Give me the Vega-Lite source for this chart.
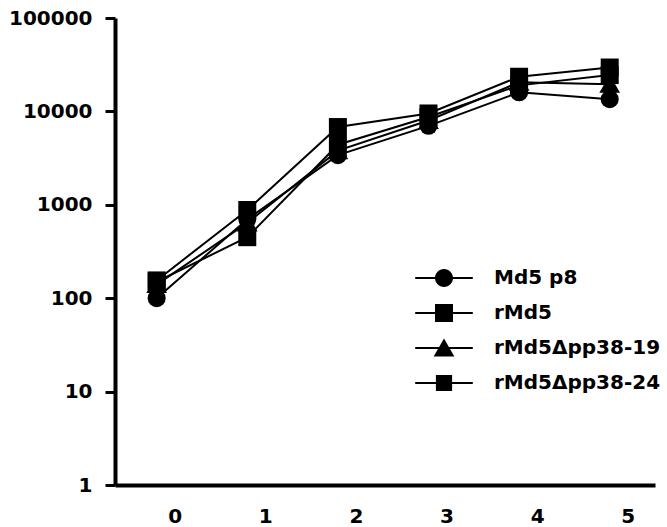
{
  "$schema": "https://vega.github.io/schema/vega-lite/v6.json",
  "autosize": {"type": "none"},
  "width": 540,
  "height": 467,
  "padding": {"left": 115, "top": 18, "right": 12, "bottom": 42},
  "background": "white",
  "config": {"view": {"stroke": null}},
  "data": {
    "values": [
      {"series": "Md5 p8", "day": 0, "value": 100},
      {"series": "Md5 p8", "day": 1, "value": 700},
      {"series": "Md5 p8", "day": 2, "value": 3400},
      {"series": "Md5 p8", "day": 3, "value": 7000},
      {"series": "Md5 p8", "day": 4, "value": 16000},
      {"series": "Md5 p8", "day": 5, "value": 13500},
      {"series": "rMd5", "day": 0, "value": 155},
      {"series": "rMd5", "day": 1, "value": 880},
      {"series": "rMd5", "day": 2, "value": 6800},
      {"series": "rMd5", "day": 3, "value": 9500},
      {"series": "rMd5", "day": 4, "value": 23500},
      {"series": "rMd5", "day": 5, "value": 29500},
      {"series": "rMd5Δpp38-19", "day": 0, "value": 140},
      {"series": "rMd5Δpp38-19", "day": 1, "value": 640},
      {"series": "rMd5Δpp38-19", "day": 2, "value": 3800},
      {"series": "rMd5Δpp38-19", "day": 3, "value": 8000},
      {"series": "rMd5Δpp38-19", "day": 4, "value": 20500},
      {"series": "rMd5Δpp38-19", "day": 5, "value": 19500},
      {"series": "rMd5Δpp38-24", "day": 0, "value": 150},
      {"series": "rMd5Δpp38-24", "day": 1, "value": 450},
      {"series": "rMd5Δpp38-24", "day": 2, "value": 4400},
      {"series": "rMd5Δpp38-24", "day": 3, "value": 8700},
      {"series": "rMd5Δpp38-24", "day": 4, "value": 19000},
      {"series": "rMd5Δpp38-24", "day": 5, "value": 24500}
    ]
  },
  "encoding": {
    "x": {
      "field": "day", "type": "quantitative",
      "scale": {"domain": [-0.46, 5.5], "nice": false, "zero": false},
      "axis": {
        "title": null, "values": [0, 1, 2, 3, 4, 5], "format": "d",
        "grid": false, "ticks": false, "tickSize": 0,
        "domainColor": "black", "domainWidth": 4,
        "labelFont": "DejaVu Sans", "labelFontWeight": "bold", "labelFontSize": 20,
        "labelColor": "black", "labelPadding": 21, "labelOffset": 18, "labelBaseline": "top"
      }
    },
    "y": {
      "field": "value", "type": "quantitative",
      "scale": {"type": "log", "domain": [1, 100000], "nice": false},
      "axis": {
        "title": null, "values": [1, 10, 100, 1000, 10000, 100000], "format": "d",
        "grid": false, "tickSize": 10, "tickWidth": 3, "tickColor": "black",
        "domainColor": "black", "domainWidth": 4,
        "labelFont": "DejaVu Sans", "labelFontWeight": "bold", "labelFontSize": 20,
        "labelColor": "black", "labelPadding": 13
      }
    }
  },
  "layer": [
    {
      "mark": {"type": "line", "color": "black", "strokeWidth": 2},
      "encoding": {"detail": {"field": "series"}}
    },
    {
      "mark": {"type": "point", "filled": true, "color": "black", "opacity": 1, "size": 324},
      "encoding": {
        "shape": {
          "field": "series", "type": "nominal",
          "scale": {
            "domain": ["Md5 p8", "rMd5", "rMd5Δpp38-19", "rMd5Δpp38-24"],
            "range": ["circle", "square", "M0,-1.05L1.15,0.95L-1.15,0.95Z", "square"]
          },
          "legend": null
        }
      }
    },
    {
      "transform": [{"filter": "false"}],
      "mark": {"type": "point", "filled": true, "color": "black", "opacity": 1, "size": 324},
      "encoding": {
        "shape": {
          "field": "series", "type": "nominal",
          "scale": {
            "domain": ["Md5 p8", "rMd5", "rMd5Δpp38-19", "rMd5Δpp38-24"],
            "range": [
              "M-3.2,-0.11H-0.5V0.11H-3.2Z M0.5,-0.11H3.2V0.11H0.5Z M0,-1A1,1,0,1,1,0,1A1,1,0,1,1,0,-1Z",
              "M-3.2,-0.11H-0.5V0.11H-3.2Z M0.5,-0.11H3.2V0.11H0.5Z M-1,-1H1V1H-1Z",
              "M-3.2,-0.11H-0.5V0.11H-3.2Z M0.5,-0.11H3.2V0.11H0.5Z M0,-1.05L1.15,0.95L-1.15,0.95Z",
              "M-3.2,-0.11H-0.5V0.11H-3.2Z M0.5,-0.11H3.2V0.11H0.5Z M-0.9,-0.9H0.9V0.9H-0.9Z"
            ]
          },
          "legend": {
            "orient": "none", "legendX": 319, "legendY": 250, "title": null,
            "padding": 0, "labelFont": "DejaVu Sans", "labelFontWeight": "bold",
            "labelFontSize": 20, "labelColor": "black", "labelOffset": 40,
            "rowPadding": 15, "symbolSize": 324, "symbolFillColor": "black",
            "symbolStrokeWidth": 0, "symbolOpacity": 1, "labelLimit": 300
          }
        }
      }
    }
  ],
  "resolve": {"scale": {"shape": "independent"}, "legend": {"shape": "independent"}}
}
